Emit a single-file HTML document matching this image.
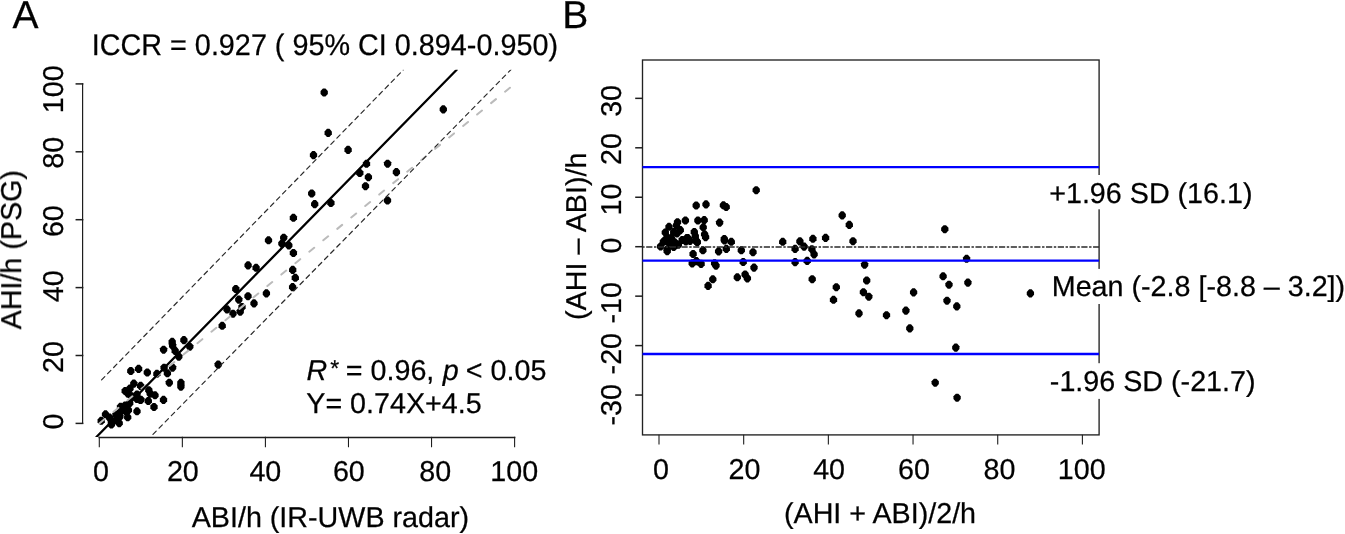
<!DOCTYPE html>
<html><head><meta charset="utf-8"><style>
html,body{margin:0;padding:0;background:#fff;}
body{width:1345px;height:534px;overflow:hidden;}
svg{display:block;}
</style></head><body>
<svg width="1345" height="534" viewBox="0 0 1345 534">
<rect x="0" y="0" width="1345" height="534" fill="#fff" stroke="none"/>
<defs><clipPath id="ca"><rect x="82.9" y="69.8" width="450" height="367.2"/></clipPath><path id="d" d="M-1.25,-4.05L1.25,-4.05L3.65,-1.4L3.65,1.4L1.25,4.05L-1.25,4.05L-3.65,1.4L-3.65,-1.4Z"/><clipPath id="cb"><rect x="642.5" y="59.8" width="456.5" height="375"/></clipPath></defs>
<g stroke="#1e1e1e" fill="none" stroke-linecap="square">
<line x1="82.6" y1="83.9" x2="82.6" y2="423.4" stroke-width="1.2"/>
<line x1="76.3" y1="423.40" x2="82.6" y2="423.40" stroke-width="1.5"/>
<line x1="76.3" y1="355.50" x2="82.6" y2="355.50" stroke-width="1.5"/>
<line x1="76.3" y1="287.60" x2="82.6" y2="287.60" stroke-width="1.5"/>
<line x1="76.3" y1="219.70" x2="82.6" y2="219.70" stroke-width="1.5"/>
<line x1="76.3" y1="151.80" x2="82.6" y2="151.80" stroke-width="1.5"/>
<line x1="76.3" y1="83.90" x2="82.6" y2="83.90" stroke-width="1.5"/>
<line x1="99.3" y1="437.4" x2="514.6" y2="437.4" stroke-width="1.5"/>
<line x1="99.30" y1="437.4" x2="99.30" y2="446.7" stroke-width="1.1"/>
<line x1="182.36" y1="437.4" x2="182.36" y2="446.7" stroke-width="1.1"/>
<line x1="265.42" y1="437.4" x2="265.42" y2="446.7" stroke-width="1.1"/>
<line x1="348.48" y1="437.4" x2="348.48" y2="446.7" stroke-width="1.1"/>
<line x1="431.54" y1="437.4" x2="431.54" y2="446.7" stroke-width="1.1"/>
<line x1="514.60" y1="437.4" x2="514.60" y2="446.7" stroke-width="1.1"/>
</g>
<g fill="#000">
<use href="#d" x="324.2" y="92.5"/>
<use href="#d" x="443.3" y="109.4"/>
<use href="#d" x="328.2" y="132.9"/>
<use href="#d" x="348.1" y="149.9"/>
<use href="#d" x="313.5" y="155.1"/>
<use href="#d" x="366.5" y="163.8"/>
<use href="#d" x="387.6" y="163.7"/>
<use href="#d" x="359.8" y="173.0"/>
<use href="#d" x="396.4" y="172.1"/>
<use href="#d" x="368.4" y="177.2"/>
<use href="#d" x="365.5" y="186.2"/>
<use href="#d" x="387.5" y="200.5"/>
<use href="#d" x="311.7" y="193.5"/>
<use href="#d" x="314.7" y="204.1"/>
<use href="#d" x="330.9" y="203.0"/>
<use href="#d" x="293.4" y="217.8"/>
<use href="#d" x="268.5" y="240.3"/>
<use href="#d" x="283.7" y="237.7"/>
<use href="#d" x="281.9" y="243.6"/>
<use href="#d" x="288.8" y="245.4"/>
<use href="#d" x="293.4" y="253.0"/>
<use href="#d" x="256.1" y="267.8"/>
<use href="#d" x="248.1" y="265.4"/>
<use href="#d" x="292.7" y="269.9"/>
<use href="#d" x="295.3" y="277.8"/>
<use href="#d" x="292.6" y="287.1"/>
<use href="#d" x="235.8" y="289.0"/>
<use href="#d" x="238.8" y="299.6"/>
<use href="#d" x="248.0" y="296.2"/>
<use href="#d" x="254.0" y="303.4"/>
<use href="#d" x="266.4" y="293.4"/>
<use href="#d" x="242.0" y="307.0"/>
<use href="#d" x="227.0" y="309.4"/>
<use href="#d" x="233.0" y="313.7"/>
<use href="#d" x="240.2" y="311.6"/>
<use href="#d" x="222.2" y="325.8"/>
<use href="#d" x="189.8" y="346.7"/>
<use href="#d" x="183.9" y="340.1"/>
<use href="#d" x="172.2" y="341.9"/>
<use href="#d" x="172.6" y="345.7"/>
<use href="#d" x="163.6" y="349.7"/>
<use href="#d" x="175.2" y="350.9"/>
<use href="#d" x="178.8" y="356.6"/>
<use href="#d" x="218.2" y="364.6"/>
<use href="#d" x="164.1" y="367.7"/>
<use href="#d" x="172.6" y="367.6"/>
<use href="#d" x="167.4" y="373.3"/>
<use href="#d" x="156.9" y="373.8"/>
<use href="#d" x="147.3" y="372.5"/>
<use href="#d" x="138.6" y="368.9"/>
<use href="#d" x="130.8" y="371.0"/>
<use href="#d" x="169.3" y="382.7"/>
<use href="#d" x="180.9" y="382.8"/>
<use href="#d" x="180.9" y="386.6"/>
<use href="#d" x="133.8" y="383.6"/>
<use href="#d" x="140.6" y="385.9"/>
<use href="#d" x="148.8" y="390.2"/>
<use href="#d" x="150.2" y="393.6"/>
<use href="#d" x="155.0" y="395.3"/>
<use href="#d" x="163.5" y="399.9"/>
<use href="#d" x="154.0" y="407.0"/>
<use href="#d" x="125.2" y="391.0"/>
<use href="#d" x="130.0" y="388.5"/>
<use href="#d" x="128.0" y="393.6"/>
<use href="#d" x="137.0" y="394.5"/>
<use href="#d" x="140.3" y="400.0"/>
<use href="#d" x="137.0" y="398.3"/>
<use href="#d" x="148.3" y="401.0"/>
<use href="#d" x="129.7" y="403.2"/>
<use href="#d" x="137.0" y="411.3"/>
<use href="#d" x="125.7" y="408.9"/>
<use href="#d" x="120.3" y="412.0"/>
<use href="#d" x="105.5" y="414.3"/>
<use href="#d" x="101.2" y="420.8"/>
<use href="#d" x="109.5" y="417.6"/>
<use href="#d" x="111.4" y="421.2"/>
<use href="#d" x="111.4" y="424.5"/>
<use href="#d" x="116.0" y="419.9"/>
<use href="#d" x="119.2" y="423.2"/>
<use href="#d" x="119.9" y="416.6"/>
<use href="#d" x="116.0" y="414.6"/>
<use href="#d" x="120.5" y="406.8"/>
<use href="#d" x="125.1" y="405.5"/>
<use href="#d" x="125.8" y="411.4"/>
<use href="#d" x="128.4" y="410.1"/>
<use href="#d" x="127.7" y="417.3"/>
<use href="#d" x="131.7" y="396.3"/>
<use href="#d" x="136.9" y="398.9"/>
<use href="#d" x="140.9" y="399.7"/>
</g>
<g clip-path="url(#ca)" fill="none" stroke-linecap="round">
<line x1="99.30" y1="423.40" x2="514.60" y2="83.90" stroke="#bbbbbb" stroke-width="2" stroke-dasharray="6.3 11.76" stroke-dashoffset="-0.35"/>
<line x1="96.4" y1="437" x2="456.7" y2="69.8" stroke="#000" stroke-width="2.3"/>
<line x1="101.6" y1="379.9" x2="403.3" y2="69.9" stroke="#2a2a2a" stroke-width="1.2" stroke-dasharray="4.6 4.05"/>
<line x1="150.8" y1="436.6" x2="511.0" y2="69.6" stroke="#2a2a2a" stroke-width="1.2" stroke-dasharray="4.6 4.15" stroke-dashoffset="-3.1"/>
</g>
<rect x="642.5" y="60.0" width="456.6" height="374.9" fill="none" stroke="#222" stroke-width="1.35"/>
<g stroke="#1e1e1e" fill="none">
<line x1="635.2" y1="395.05" x2="642.5" y2="395.05" stroke-width="1.5"/>
<line x1="635.2" y1="345.60" x2="642.5" y2="345.60" stroke-width="1.5"/>
<line x1="635.2" y1="296.15" x2="642.5" y2="296.15" stroke-width="1.5"/>
<line x1="635.2" y1="246.70" x2="642.5" y2="246.70" stroke-width="1.5"/>
<line x1="635.2" y1="197.25" x2="642.5" y2="197.25" stroke-width="1.5"/>
<line x1="635.2" y1="147.80" x2="642.5" y2="147.80" stroke-width="1.5"/>
<line x1="635.2" y1="98.35" x2="642.5" y2="98.35" stroke-width="1.5"/>
<line x1="659.00" y1="434.8" x2="659.00" y2="444.6" stroke-width="1.1"/>
<line x1="743.68" y1="434.8" x2="743.68" y2="444.6" stroke-width="1.1"/>
<line x1="828.36" y1="434.8" x2="828.36" y2="444.6" stroke-width="1.1"/>
<line x1="913.04" y1="434.8" x2="913.04" y2="444.6" stroke-width="1.1"/>
<line x1="997.72" y1="434.8" x2="997.72" y2="444.6" stroke-width="1.1"/>
<line x1="1082.40" y1="434.8" x2="1082.40" y2="444.6" stroke-width="1.1"/>
</g>
<g fill="#000">
<use href="#d" x="696.2" y="205.5"/>
<use href="#d" x="706.0" y="204.4"/>
<use href="#d" x="723.4" y="205.3"/>
<use href="#d" x="726.2" y="207.0"/>
<use href="#d" x="685.4" y="220.5"/>
<use href="#d" x="677.5" y="222.2"/>
<use href="#d" x="697.9" y="220.5"/>
<use href="#d" x="704.2" y="220.1"/>
<use href="#d" x="703.2" y="227.3"/>
<use href="#d" x="719.6" y="222.6"/>
<use href="#d" x="669.0" y="226.8"/>
<use href="#d" x="680.3" y="230.1"/>
<use href="#d" x="665.3" y="232.5"/>
<use href="#d" x="673.7" y="232.0"/>
<use href="#d" x="677.0" y="233.4"/>
<use href="#d" x="694.3" y="232.0"/>
<use href="#d" x="704.6" y="234.3"/>
<use href="#d" x="705.6" y="237.1"/>
<use href="#d" x="695.3" y="236.2"/>
<use href="#d" x="724.3" y="239.0"/>
<use href="#d" x="731.3" y="241.8"/>
<use href="#d" x="687.8" y="238.1"/>
<use href="#d" x="682.2" y="240.0"/>
<use href="#d" x="697.1" y="241.8"/>
<use href="#d" x="664.4" y="240.9"/>
<use href="#d" x="670.0" y="239.0"/>
<use href="#d" x="676.5" y="225.4"/>
<use href="#d" x="667.2" y="237.2"/>
<use href="#d" x="671.4" y="238.1"/>
<use href="#d" x="686.8" y="238.1"/>
<use href="#d" x="663.4" y="241.8"/>
<use href="#d" x="669.0" y="242.8"/>
<use href="#d" x="674.7" y="242.3"/>
<use href="#d" x="678.4" y="244.6"/>
<use href="#d" x="660.6" y="246.5"/>
<use href="#d" x="667.2" y="249.3"/>
<use href="#d" x="667.2" y="251.2"/>
<use href="#d" x="673.7" y="247.0"/>
<use href="#d" x="685.9" y="241.4"/>
<use href="#d" x="690.1" y="240.9"/>
<use href="#d" x="696.2" y="240.9"/>
<use href="#d" x="693.1" y="254.0"/>
<use href="#d" x="696.4" y="261.1"/>
<use href="#d" x="702.9" y="250.3"/>
<use href="#d" x="692.2" y="263.4"/>
<use href="#d" x="701.1" y="263.9"/>
<use href="#d" x="697.3" y="242.3"/>
<use href="#d" x="718.6" y="251.4"/>
<use href="#d" x="726.3" y="248.9"/>
<use href="#d" x="741.3" y="250.3"/>
<use href="#d" x="753.0" y="252.2"/>
<use href="#d" x="714.6" y="263.4"/>
<use href="#d" x="716.0" y="265.7"/>
<use href="#d" x="743.2" y="262.0"/>
<use href="#d" x="754.0" y="267.6"/>
<use href="#d" x="712.8" y="279.3"/>
<use href="#d" x="708.1" y="285.9"/>
<use href="#d" x="737.3" y="277.3"/>
<use href="#d" x="745.1" y="274.5"/>
<use href="#d" x="747.4" y="278.4"/>
<use href="#d" x="724.5" y="240.5"/>
<use href="#d" x="756.2" y="190.2"/>
<use href="#d" x="782.7" y="241.8"/>
<use href="#d" x="795.1" y="248.9"/>
<use href="#d" x="799.9" y="241.4"/>
<use href="#d" x="804.1" y="246.6"/>
<use href="#d" x="812.9" y="238.8"/>
<use href="#d" x="811.9" y="249.2"/>
<use href="#d" x="814.1" y="254.4"/>
<use href="#d" x="825.6" y="237.9"/>
<use href="#d" x="795.1" y="262.1"/>
<use href="#d" x="807.2" y="260.9"/>
<use href="#d" x="812.2" y="279.2"/>
<use href="#d" x="842.2" y="215.4"/>
<use href="#d" x="849.3" y="224.9"/>
<use href="#d" x="853.0" y="241.2"/>
<use href="#d" x="864.6" y="264.6"/>
<use href="#d" x="866.7" y="280.5"/>
<use href="#d" x="836.3" y="287.2"/>
<use href="#d" x="833.5" y="299.8"/>
<use href="#d" x="863.4" y="292.2"/>
<use href="#d" x="868.8" y="296.7"/>
<use href="#d" x="859.0" y="313.4"/>
<use href="#d" x="886.5" y="315.2"/>
<use href="#d" x="913.6" y="292.4"/>
<use href="#d" x="905.9" y="310.6"/>
<use href="#d" x="909.8" y="328.4"/>
<use href="#d" x="943.1" y="276.3"/>
<use href="#d" x="949.0" y="284.7"/>
<use href="#d" x="967.9" y="282.6"/>
<use href="#d" x="947.0" y="300.7"/>
<use href="#d" x="956.8" y="306.4"/>
<use href="#d" x="955.8" y="347.6"/>
<use href="#d" x="966.6" y="258.8"/>
<use href="#d" x="944.8" y="229.2"/>
<use href="#d" x="1030.4" y="293.4"/>
<use href="#d" x="935.2" y="382.7"/>
<use href="#d" x="957.1" y="397.7"/>
</g>
<g clip-path="url(#cb)">
<line x1="642" y1="246.9" x2="1100" y2="246.9" stroke="#2a2a2a" stroke-width="1.5" stroke-dasharray="6.2 1.6 2.4 1.56" stroke-dashoffset="7.58"/>
<line x1="642" y1="167.09" x2="1100" y2="167.09" stroke="#0000ff" stroke-width="2.3"/>
<line x1="642" y1="260.55" x2="1100" y2="260.55" stroke="#0000ff" stroke-width="2.3"/>
<line x1="642" y1="354.01" x2="1100" y2="354.01" stroke="#0000ff" stroke-width="2.3"/>
</g>
<g opacity="0.999" text-rendering="geometricPrecision" stroke="#000" stroke-width="0.25">
<text font-family="&quot;Liberation Sans&quot;, sans-serif" font-size="39" text-anchor="start" x="12.45" y="27.90">A</text>
<text font-family="&quot;Liberation Sans&quot;, sans-serif" font-size="39" text-anchor="start" x="562.15" y="27.90">B</text>
<text font-family="&quot;Liberation Sans&quot;, sans-serif" font-size="28.7" transform="translate(91.75,54.6) scale(1.003,1.04)">ICCR = 0.927 ( 95% CI 0.894-0.950)</text>
<text font-family="&quot;Liberation Sans&quot;, sans-serif" font-size="28.7" text-anchor="start" x="191.70" y="526.80">ABI/h (IR-UWB radar)</text>
<text font-family="&quot;Liberation Sans&quot;, sans-serif" font-size="28.7" text-anchor="start" transform="translate(21.00,329.40) rotate(-90)">AHI/h (PSG)</text>
<text font-family="&quot;Liberation Sans&quot;, sans-serif" font-size="28.7" text-anchor="start" transform="translate(586.00,319.95) rotate(-90)">(AHI – ABI)/h</text>
<text font-family="&quot;Liberation Sans&quot;, sans-serif" font-size="28.7" text-anchor="start" x="783.95" y="522.80">(AHI + ABI)/2/h</text>
<text font-family="&quot;Liberation Sans&quot;, sans-serif" font-size="28.7" text-anchor="start" font-style="italic" x="306.50" y="379.60">R</text>
<text font-family="&quot;Liberation Sans&quot;, sans-serif" font-size="23" text-anchor="start" x="330.20" y="376.00">*</text>
<text font-family="&quot;Liberation Sans&quot;, sans-serif" font-size="28.7" text-anchor="start" x="345.80" y="379.60">= 0.96,</text>
<text font-family="&quot;Liberation Sans&quot;, sans-serif" font-size="28.7" text-anchor="start" font-style="italic" x="442.75" y="379.60">p</text>
<text font-family="&quot;Liberation Sans&quot;, sans-serif" font-size="28.7" text-anchor="start" x="465.80" y="379.60">&lt; 0.05</text>
<text font-family="&quot;Liberation Sans&quot;, sans-serif" font-size="28.7" text-anchor="start" x="306.25" y="413.40">Y= 0.74X+4.5</text>
<rect x="1045" y="175" width="210" height="34.3" fill="#fff" stroke="none"/>
<rect x="1045" y="268.9" width="300" height="35.1" fill="#fff" stroke="none"/>
<rect x="1045" y="363.2" width="215" height="35.7" fill="#fff" stroke="none"/>
<text font-family="&quot;Liberation Sans&quot;, sans-serif" font-size="28.7" text-anchor="start" x="1049.20" y="203.10">+1.96 SD (16.1)</text>
<text font-family="&quot;Liberation Sans&quot;, sans-serif" font-size="28.7" text-anchor="start" x="1051.75" y="295.90">Mean (-2.8 [-8.8 – 3.2])</text>
<text font-family="&quot;Liberation Sans&quot;, sans-serif" font-size="28.7" text-anchor="start" x="1049.85" y="390.90">-1.96 SD (-21.7)</text>
<text font-family="&quot;Liberation Sans&quot;, sans-serif" font-size="28.7" text-anchor="start" transform="translate(62.50,429.39) rotate(-90)">0</text>
<text font-family="&quot;Liberation Sans&quot;, sans-serif" font-size="28.7" text-anchor="start" transform="translate(62.50,373.00) rotate(-90)">20</text>
<text font-family="&quot;Liberation Sans&quot;, sans-serif" font-size="28.7" text-anchor="start" transform="translate(62.50,302.22) rotate(-90)">40</text>
<text font-family="&quot;Liberation Sans&quot;, sans-serif" font-size="28.7" text-anchor="start" transform="translate(62.50,237.10) rotate(-90)">60</text>
<text font-family="&quot;Liberation Sans&quot;, sans-serif" font-size="28.7" text-anchor="start" transform="translate(62.50,168.67) rotate(-90)">80</text>
<text font-family="&quot;Liberation Sans&quot;, sans-serif" font-size="28.7" text-anchor="start" transform="translate(62.50,113.16) rotate(-90)">100</text>
<text font-family="&quot;Liberation Sans&quot;, sans-serif" font-size="28.7" text-anchor="start" x="92.91" y="481.00">0</text>
<text font-family="&quot;Liberation Sans&quot;, sans-serif" font-size="28.7" text-anchor="start" x="166.90" y="481.00">20</text>
<text font-family="&quot;Liberation Sans&quot;, sans-serif" font-size="28.7" text-anchor="start" x="249.38" y="481.00">40</text>
<text font-family="&quot;Liberation Sans&quot;, sans-serif" font-size="28.7" text-anchor="start" x="332.88" y="481.00">60</text>
<text font-family="&quot;Liberation Sans&quot;, sans-serif" font-size="28.7" text-anchor="start" x="419.33" y="481.00">80</text>
<text font-family="&quot;Liberation Sans&quot;, sans-serif" font-size="28.7" text-anchor="start" x="490.34" y="481.00">100</text>
<text font-family="&quot;Liberation Sans&quot;, sans-serif" font-size="28.7" text-anchor="start" transform="translate(620.80,116.87) rotate(-90)">30</text>
<text font-family="&quot;Liberation Sans&quot;, sans-serif" font-size="28.7" text-anchor="start" transform="translate(620.80,164.90) rotate(-90)">20</text>
<text font-family="&quot;Liberation Sans&quot;, sans-serif" font-size="28.7" text-anchor="start" transform="translate(620.80,215.47) rotate(-90)">10</text>
<text font-family="&quot;Liberation Sans&quot;, sans-serif" font-size="28.7" text-anchor="start" transform="translate(620.80,253.39) rotate(-90)">0</text>
<text font-family="&quot;Liberation Sans&quot;, sans-serif" font-size="28.7" text-anchor="start" transform="translate(620.80,323.51) rotate(-90)">-10</text>
<text font-family="&quot;Liberation Sans&quot;, sans-serif" font-size="28.7" text-anchor="start" transform="translate(620.80,374.41) rotate(-90)">-20</text>
<text font-family="&quot;Liberation Sans&quot;, sans-serif" font-size="28.7" text-anchor="start" transform="translate(620.80,425.61) rotate(-90)">-30</text>
<text font-family="&quot;Liberation Sans&quot;, sans-serif" font-size="28.7" text-anchor="start" x="653.01" y="478.70">0</text>
<text font-family="&quot;Liberation Sans&quot;, sans-serif" font-size="28.7" text-anchor="start" x="728.58" y="478.70">20</text>
<text font-family="&quot;Liberation Sans&quot;, sans-serif" font-size="28.7" text-anchor="start" x="813.14" y="478.70">40</text>
<text font-family="&quot;Liberation Sans&quot;, sans-serif" font-size="28.7" text-anchor="start" x="897.94" y="478.70">60</text>
<text font-family="&quot;Liberation Sans&quot;, sans-serif" font-size="28.7" text-anchor="start" x="983.45" y="478.70">80</text>
<text font-family="&quot;Liberation Sans&quot;, sans-serif" font-size="28.7" text-anchor="start" x="1057.74" y="478.70">100</text>
</g>
</svg>
</body></html>
